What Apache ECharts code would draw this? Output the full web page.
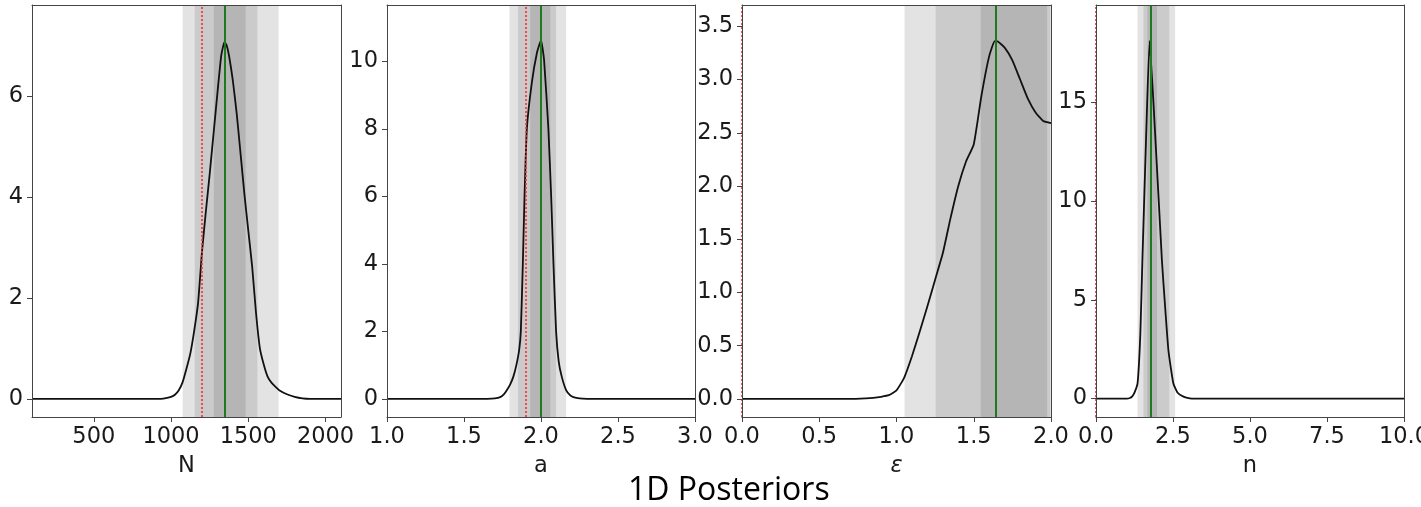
<!DOCTYPE html>
<html>
<head>
<meta charset="utf-8">
<script src="https://cdn.jsdelivr.net/npm/echarts@6/dist/echarts.min.js"></script>
<style>
  html, body { margin: 0; padding: 0; background: #fff; }
  #chart { width: 1421px; height: 507px; }
</style>
</head>
<body>
<div id="chart"></div>
<script>
// ---------- Panel names ----------
const axisNames = ['N', 'a', 'ε', 'n'];

// ---------- Posterior curves (x, density) ----------
const nX = [100, 900, 950, 1000, 1025, 1050, 1075, 1100, 1125, 1150, 1175, 1200, 1225, 1250, 1275, 1300, 1325, 1346, 1360, 1375, 1400, 1425, 1450, 1475, 1500, 1525, 1550, 1575, 1600, 1625, 1650, 1675, 1700, 1750, 1800, 1850, 1900, 2100];
const nY = [0, 0, 0.005, 0.04, 0.08, 0.17, 0.33, 0.6, 0.9, 1.35, 1.9, 2.9, 3.7, 4.45, 5.25, 6.05, 6.8, 7.07, 7.0, 6.8, 6.3, 5.65, 4.85, 4.05, 3.33, 2.62, 1.7, 1.0, 0.68, 0.44, 0.32, 0.24, 0.17, 0.09, 0.04, 0.01, 0, 0];

const aX = [1.0, 1.65, 1.7, 1.735, 1.76, 1.78, 1.8, 1.82, 1.84, 1.858, 1.869, 1.882, 1.893, 1.908, 1.94, 1.973, 2.0, 2.02, 2.048, 2.066, 2.081, 2.098, 2.115, 2.135, 2.163, 2.19, 2.21, 2.25, 2.3, 3.0];
const aY = [0, 0, 0.01, 0.05, 0.14, 0.27, 0.43, 0.65, 1.0, 1.44, 2.0, 4.0, 6.0, 8.0, 9.36, 10.25, 10.63, 10.05, 8.0, 6.0, 4.0, 2.0, 1.1, 0.65, 0.26, 0.1, 0.05, 0.01, 0, 0];

const eX = [0, 0.7, 0.8, 0.85, 0.9, 0.95, 1.0, 1.05, 1.1, 1.15, 1.2, 1.25, 1.3, 1.35, 1.4, 1.45, 1.5, 1.55, 1.6, 1.636, 1.65, 1.7, 1.75, 1.8, 1.85, 1.9, 1.95, 2.0];
const eY = [0, 0, 0.005, 0.01, 0.02, 0.035, 0.08, 0.2, 0.4, 0.63, 0.87, 1.12, 1.37, 1.7, 2.0, 2.23, 2.39, 2.85, 3.22, 3.36, 3.36, 3.30, 3.18, 3.0, 2.82, 2.69, 2.61, 2.59];

const sX = [0, 1.0, 1.1, 1.17, 1.25, 1.35, 1.44, 1.51, 1.63, 1.74, 1.92, 2.14, 2.19, 2.35, 2.51, 2.65, 2.84, 3.0, 3.2, 10];
const sY = [0, 0, 0.03, 0.1, 0.3, 0.78, 3.3, 7.2, 13.4, 18.1, 13.4, 7.0, 5.84, 2.46, 0.78, 0.3, 0.1, 0.03, 0, 0];

// ---------- Credible bands [lo, hi]: outer, middle, inner ----------
const nBands = [[1075, 1696], [1153, 1559], [1277, 1483]];
const aBands = [[1.795, 2.163], [1.85, 2.098], [1.93, 2.06]];
const eBands = [[1.052, 2.0], [1.253, 1.995], [1.545, 1.975]];
const sBands = [[1.35, 2.57], [1.54, 2.38], [1.67, 1.98]];

// ---------- Median (green) and true value (red dotted) ----------
const medians = [1346, 2.0, 1.64, 1.78];
const truths = [1200, 1.9, 0, 0];

// ---------- Axis ranges and ticks ----------
const xRanges = [[100, 2100], [1, 3], [0, 2], [0, 10]];
const yRanges = [[-0.36, 7.8], [-0.54, 11.68], [-0.17, 3.7], [-0.93, 19.92]];
const nXTicks = [500, 1000, 1500, 2000];
const aXTicks = [1.0, 1.5, 2.0, 2.5, 3.0];
const eXTicks = [0, 0.5, 1.0, 1.5, 2.0];
const sXTicks = [0, 2.5, 5, 7.5, 10];
const nYTicks = [0, 2, 4, 6];
const aYTicks = [0, 2, 4, 6, 8, 10];
const eYTicks = [0, 0.5, 1.0, 1.5, 2.0, 2.5, 3.0, 3.5];
const sYTicks = [0, 5, 10, 15];
const xDecimals = [0, 1, 1, 1];
const yDecimals = [0, 0, 1, 0];

const title = '1D Posteriors';

// ---------- Build options ----------
const curvesX = [nX, aX, eX, sX];
const curvesY = [nY, aY, eY, sY];
const bands = [nBands, aBands, eBands, sBands];
const xTicks = [nXTicks, aXTicks, eXTicks, sXTicks];
const yTicks = [nYTicks, aYTicks, eYTicks, sYTicks];

const gridLefts = [32, 387, 742, 1096];
const gridWidths = [309, 308, 309, 308];
const bandColors = ['#e3e3e3', '#cbcbcb', '#b5b5b5'];
const axisColor = '#444';
const labelFont = { fontFamily: 'DejaVu Sans', fontSize: 22.5, color: '#1a1a1a' };

const grids = [], xAxes = [], yAxes = [], series = [];

for (let i = 0; i < 4; i++) {
  grids.push({ left: gridLefts[i], top: 5, width: gridWidths[i], height: 412, containLabel: false, outerBoundsMode: 'none' });
  const xd = xDecimals[i], yd = yDecimals[i];
  xAxes.push({
    gridIndex: i, type: 'value', min: xRanges[i][0], max: xRanges[i][1], position: 'bottom', z: 10,
    axisLine: { show: true, onZero: false, lineStyle: { color: axisColor, width: 1 } },
    axisTick: { show: true, inside: false, length: 5, customValues: xTicks[i], lineStyle: { color: axisColor } },
    axisLabel: Object.assign({ customValues: xTicks[i], margin: 9, formatter: v => v.toFixed(xd) }, labelFont),
    splitLine: { show: false },
    name: axisNames[i], nameLocation: 'middle', nameGap: 38,
    nameTextStyle: Object.assign({ fontStyle: i === 2 ? 'italic' : 'normal' }, labelFont)
  });
  xAxes.push({
    gridIndex: i, type: 'value', min: xRanges[i][0], max: xRanges[i][1], position: 'top', z: 10,
    axisLine: { show: true, onZero: false, lineStyle: { color: axisColor, width: 1 } },
    axisTick: { show: false }, axisLabel: { show: false }, splitLine: { show: false }
  });
  yAxes.push({
    gridIndex: i, type: 'value', min: yRanges[i][0], max: yRanges[i][1], position: 'left', z: 10,
    axisLine: { show: true, onZero: false, lineStyle: { color: axisColor, width: 1 } },
    axisTick: { show: true, inside: false, length: 5, customValues: yTicks[i], lineStyle: { color: axisColor } },
    axisLabel: Object.assign({ customValues: yTicks[i], margin: 9, formatter: v => v.toFixed(yd) }, labelFont),
    splitLine: { show: false }
  });
  yAxes.push({
    gridIndex: i, type: 'value', min: yRanges[i][0], max: yRanges[i][1], position: 'right', z: 10,
    axisLine: { show: true, onZero: false, lineStyle: { color: axisColor, width: 1 } },
    axisTick: { show: false }, axisLabel: { show: false }, splitLine: { show: false }
  });

  const xi = 2 * i, yi = 2 * i;
  // bands
  series.push({
    type: 'line', xAxisIndex: xi, yAxisIndex: yi, data: [], z: 1, silent: true,
    markArea: {
      silent: true,
      data: bands[i].map((b, k) => [
        { xAxis: b[0], itemStyle: { color: bandColors[k], opacity: 1 } },
        { xAxis: b[1] }
      ])
    }
  });
  // curve
  series.push({
    type: 'line', xAxisIndex: xi, yAxisIndex: yi, z: 4, silent: true,
    data: curvesX[i].map((x, k) => [x, curvesY[i][k]]),
    symbol: 'none', showSymbol: false, smooth: 0.15,
    lineStyle: { color: '#111', width: 1.8 }
  });
  // median
  series.push({
    type: 'line', xAxisIndex: xi, yAxisIndex: yi, data: [], z: 3, silent: true,
    markLine: {
      silent: true, symbol: ['none', 'none'], label: { show: false },
      lineStyle: { color: '#1f7a1f', width: 2, type: 'solid' },
      data: [{ xAxis: medians[i] }]
    }
  });
  // truth
  series.push({
    type: 'line', xAxisIndex: xi, yAxisIndex: yi, data: [], z: 12, silent: true,
    markLine: {
      silent: true, symbol: ['none', 'none'], label: { show: false },
      lineStyle: { color: '#ff3333', width: 2, type: 'dotted', opacity: 0.85 },
      data: [{ xAxis: truths[i] }]
    }
  });
}

const chart = echarts.init(document.getElementById('chart'), null, { renderer: 'canvas' });
chart.setOption({
  animation: false,
  backgroundColor: '#ffffff',
  grid: grids,
  xAxis: xAxes,
  yAxis: yAxes,
  series: series,
  graphic: [{
    type: 'text', left: 628, top: 475,
    style: { text: title, font: '32px "Open Sans"', fill: '#000' }
  }]
});
</script>
</body>
</html>
